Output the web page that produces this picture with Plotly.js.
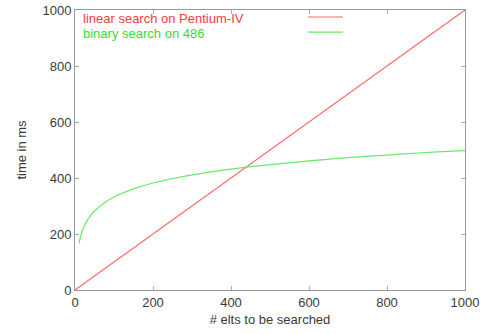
<!DOCTYPE html>
<html><head><meta charset="utf-8">
<script src="https://cdn.plot.ly/plotly-3.0.1.min.js"></script>
<style>html,body{margin:0;padding:0;background:#fff}</style>
</head><body><div id="c" style="width:481px;height:334px"></div>
<script>
const linearX = [0, 1000];
const linearY = [0, 1000];
const binaryX = [10, 15, 20, 30, 40, 50, 75, 100, 150, 200, 300, 400, 500, 600, 700, 800, 900, 1000];
const binaryY = [166, 195, 216, 245, 266, 282, 311, 332, 361, 382, 411, 432, 448, 461, 473, 482, 491, 498];
const seriesNames = ["linear search on Pentium-IV", "binary search on 486"];
const textColors = ["#ff3b3b", "#3ada3a"];
const lineColors = ["#ff6a6a", "#6ae86a"];
const xTicks = [0, 200, 400, 600, 800, 1000];
const yTicks = [0, 200, 400, 600, 800, 1000];

const font = {family: "Liberation Sans, Arial, sans-serif", size: 13, color: "#3a3a3a"};
const traces = [
  {x: linearX, y: linearY, mode: "lines", name: seriesNames[0], line: {color: lineColors[0], width: 1.2}, showlegend: false},
  {x: binaryX, y: binaryY, mode: "lines", name: seriesNames[1], line: {color: lineColors[1], width: 1.2, shape: "spline"}, showlegend: false}
];
const axisCommon = {
  showgrid: false, zeroline: false, showline: true, mirror: "ticks", linecolor: "#999", linewidth: 1,
  ticks: "inside", ticklen: 4, tickcolor: "#aaa", tickfont: font
};
const layout = {
  width: 481, height: 334,
  margin: {l: 75, r: 16, t: 10, b: 44},
  paper_bgcolor: "#fff", plot_bgcolor: "#fff",
  font: font,
  xaxis: Object.assign({}, axisCommon, {range: [0, 1000], tickvals: xTicks, ticktext: xTicks.map(String),
    title: {text: "# elts to be searched", font: font, standoff: 6}}),
  yaxis: Object.assign({}, axisCommon, {range: [0, 1000], tickvals: yTicks, ticktext: yTicks.map(String),
    title: {text: "time in ms", font: font, standoff: 12}}),
  annotations: seriesNames.map((n, i) => ({
    text: n, xref: "paper", yref: "paper", x: 0.016, y: 0.968 - i * 0.052,
    xanchor: "left", yanchor: "middle", showarrow: false,
    font: {family: font.family, size: 13, color: textColors[i]}
  })),
  shapes: lineColors.map((c, i) => ({
    type: "line", xref: "paper", yref: "paper", x0: 0.597, x1: 0.687,
    y0: 0.975 - i * 0.054, y1: 0.975 - i * 0.054, line: {color: c, width: 1.2}
  }))
};
Plotly.newPlot("c", traces, layout, {staticPlot: true, displayModeBar: false});
</script></body></html>
